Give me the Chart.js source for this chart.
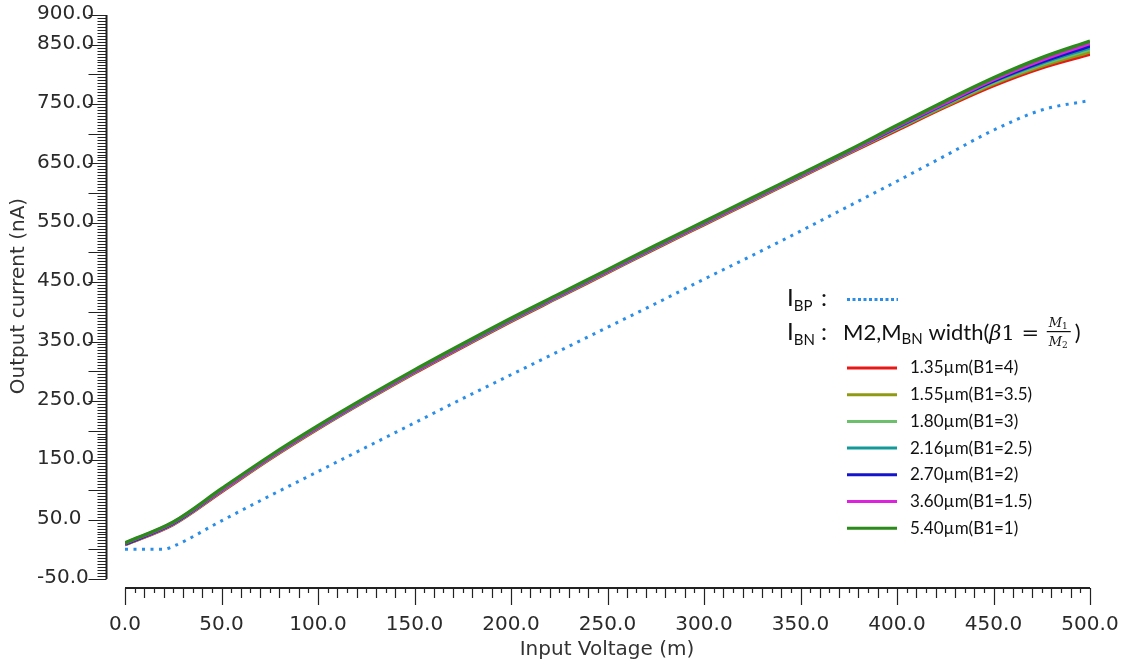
<!DOCTYPE html>
<html>
<head>
<meta charset="utf-8">
<script src="https://cdn.jsdelivr.net/npm/chart.js@4.4.0/dist/chart.umd.min.js"></script>
<style>
	html, body { margin: 0; padding: 0; background: #fff; }
	#wrap { width: 1129px; height: 666px; position: relative; }
</style>
</head>
<body>
<div id="wrap"><canvas id="chart"></canvas></div>
<script>
// input voltage (m) sweep
const voltage = [0, 25, 50, 75, 100, 125, 150, 175, 200, 225, 250, 275, 300, 325, 350, 375, 400, 425, 450, 475, 500];

// I_BN for each M2,M_BN width (nA)
const i135 = [8, 42, 97, 152, 203, 251, 297, 341, 384, 425, 466, 507, 547, 587, 627, 667, 706, 745, 781, 811, 834];
const i155 = [8, 43, 98, 153, 204, 252, 298, 342, 385, 426, 467, 508, 548, 588, 628, 668, 708, 747, 784, 814, 838];
const i180 = [9, 43, 99, 154, 205, 253, 299, 343, 386, 427, 468, 509, 549, 589, 629, 669, 709, 749, 786, 817, 842];
const i216 = [9, 44, 99, 154, 205, 253, 299, 343, 386, 427, 468, 509, 549, 589, 629, 669, 710, 750, 788, 819, 845];
const i270 = [9, 44, 100, 155, 206, 254, 300, 344, 387, 428, 469, 510, 550, 590, 630, 670, 711, 751, 789, 821, 848];
const i360 = [10, 45, 100, 155, 206, 254, 300, 344, 387, 428, 469, 510, 550, 590, 630, 670, 712, 752, 791, 824, 852];
const i540 = [11, 46, 102, 157, 208, 256, 302, 346, 389, 430, 471, 512, 552, 592, 632, 672, 714, 755, 794, 828, 856];

// I_BP (dotted)
const ibpVoltage = [0, 10, 20, 25, 50, 75, 100, 125, 150, 175, 200, 225, 250, 275, 300, 325, 350, 375, 400, 425, 450, 475, 500];
const ibpCurrent = [0, 0, 0, 5, 48, 90, 131, 172, 213, 254, 294, 334, 374, 414, 455, 495, 536, 578, 620, 663, 706, 740, 756];

const seriesLabels = ['1.35µm(B1=4)', '1.55µm(B1=3.5)', '1.80µm(B1=3)', '2.16µm(B1=2.5)', '2.70µm(B1=2)', '3.60µm(B1=1.5)', '5.40µm(B1=1)'];
const seriesData = [i135, i155, i180, i216, i270, i360, i540];
const seriesColors = ['#e81818', '#8f9a10', '#6cc06c', '#14999a', '#1414cc', '#dc22dc', '#2a8a1a'];
const ibpColor = '#2a8ee8';

// y tick labels shown (cadence style: odd hundreds + top)
const yLabelValues = [900, 850, 750, 650, 550, 450, 350, 250, 150, 50, -50];
const xLabelValues = [0, 50, 100, 150, 200, 250, 300, 350, 400, 450, 500];

const toPoints = (xs, ys) => xs.map((v, i) => ({ x: v, y: ys[i] }));

const datasets = seriesData.map((arr, i) => ({
	label: seriesLabels[i],
	data: toPoints(voltage, arr),
	borderColor: seriesColors[i],
	borderWidth: 3.5,
	pointRadius: 0,
	cubicInterpolationMode: 'monotone',
	order: seriesData.length - i,
}));
datasets.push({
	label: 'IBP',
	data: toPoints(ibpVoltage, ibpCurrent),
	borderColor: ibpColor,
	borderWidth: 3,
	borderDash: [3, 5.5],
	pointRadius: 0,
	cubicInterpolationMode: 'monotone',
	order: 0,
});

const AXIS_COLOR = '#222';

const axesPlugin = {
	id: 'cadenceAxes',
	afterDraw(chart) {
		const { ctx, scales: { x, y } } = chart;
		ctx.save();
		ctx.strokeStyle = AXIS_COLOR;
		ctx.fillStyle = AXIS_COLOR;

		// y axis, sitting left of the plot
		const yAxisX = 106.5;
		ctx.lineWidth = 2;
		ctx.beginPath();
		ctx.moveTo(yAxisX, y.getPixelForValue(900));
		ctx.lineTo(yAxisX, y.getPixelForValue(-50));
		ctx.stroke();
		ctx.lineWidth = 1.2;
		ctx.beginPath();
		for (let v = -50; v <= 900; v += 5) {
			const py = Math.round(y.getPixelForValue(v)) + 0.5;
			const len = v % 50 === 0 ? 18 : 9;
			ctx.moveTo(yAxisX, py);
			ctx.lineTo(yAxisX - len, py);
		}
		ctx.stroke();

		ctx.fillStyle = '#2a2a2a';
		ctx.font = '20px "DejaVu Sans"';
		ctx.textAlign = 'left';
		ctx.textBaseline = 'middle';
		yLabelValues.forEach(v => {
			ctx.fillText(v.toFixed(1), 37, y.getPixelForValue(v) - 1);
		});

		// x axis, below the plot
		const xAxisY = 588;
		ctx.lineWidth = 2;
		ctx.beginPath();
		ctx.moveTo(x.getPixelForValue(0), xAxisY);
		ctx.lineTo(x.getPixelForValue(500), xAxisY);
		ctx.stroke();
		ctx.lineWidth = 1.2;
		ctx.beginPath();
		for (let v = 0; v <= 500; v += 5) {
			const px = Math.round(x.getPixelForValue(v)) + 0.5;
			const len = v % 50 === 0 ? 17 : (v % 10 === 0 ? 10 : 5);
			ctx.moveTo(px, xAxisY);
			ctx.lineTo(px, xAxisY + len);
		}
		ctx.stroke();

		ctx.textAlign = 'center';
		xLabelValues.forEach(v => {
			ctx.fillText(v.toFixed(1), x.getPixelForValue(v), 625);
		});

		// axis titles
		ctx.fillStyle = '#333';
		ctx.font = '20px "DejaVu Sans"';
		ctx.fillText('Input Voltage (m)', 607, 650);
		ctx.save();
		ctx.translate(19, 296);
		ctx.rotate(-Math.PI / 2);
		ctx.fillText('Output current (nA)', 0, 0);
		ctx.restore();

		drawLegend(ctx);
		ctx.restore();
	},
};

function drawRun(ctx, parts, x, baseline) {
	let cx = x;
	parts.forEach(p => {
		ctx.font = p.font;
		ctx.fillText(p.text, cx, baseline + (p.dy || 0));
		cx += ctx.measureText(p.text).width;
	});
	return cx;
}

function drawLegend(ctx) {
	const big = '24px Lato';
	const mid = '22px Lato';
	const sub = '15px Lato';
	ctx.fillStyle = '#111';
	ctx.textAlign = 'left';
	ctx.textBaseline = 'alphabetic';

	// I_BP : ......
	drawRun(ctx, [
		{ text: 'I', font: big },
		{ text: 'BP', font: sub, dy: 5 },
	], 787, 306);
	ctx.font = big;
	ctx.fillText(':', 821, 306);
	ctx.save();
	ctx.strokeStyle = ibpColor;
	ctx.lineWidth = 3;
	ctx.setLineDash([3, 2.5]);
	ctx.beginPath();
	ctx.moveTo(847, 299.5);
	ctx.lineTo(898, 299.5);
	ctx.stroke();
	ctx.restore();

	// I_BN : M2,M_BN width(β1 = M1/M2)
	drawRun(ctx, [
		{ text: 'I', font: big },
		{ text: 'BN', font: sub, dy: 5 },
	], 787, 340);
	ctx.font = big;
	ctx.fillText(':', 821, 340);
	let cx = drawRun(ctx, [
		{ text: 'M2,M', font: mid },
		{ text: 'BN', font: sub, dy: 4 },
		{ text: ' width(', font: mid },
		{ text: 'β', font: 'italic 21px "DejaVu Serif"' },
		{ text: '1 = ', font: '21px "DejaVu Serif"' },
	], 843, 340);
	// fraction M1 / M2
	const fracW = 24;
	ctx.fillRect(cx + 1, 331, fracW, 1.2);
	drawRun(ctx, [
		{ text: 'M', font: 'italic 13px "DejaVu Serif"' },
		{ text: '1', font: '9px "DejaVu Serif"', dy: 2 },
	], cx + 3, 327);
	drawRun(ctx, [
		{ text: 'M', font: 'italic 13px "DejaVu Serif"' },
		{ text: '2', font: '9px "DejaVu Serif"', dy: 2 },
	], cx + 3, 346);
	ctx.font = mid;
	ctx.fillText(')', cx + fracW + 5, 340);

	// width entries
	const rowTop = 368;
	const rowGap = 26.7;
	ctx.font = '17px Lato';
	ctx.textBaseline = 'middle';
	seriesLabels.forEach((lab, i) => {
		const ry = rowTop + i * rowGap;
		ctx.strokeStyle = seriesColors[i];
		ctx.lineWidth = 3;
		ctx.beginPath();
		ctx.moveTo(847, ry);
		ctx.lineTo(897, ry);
		ctx.stroke();
		ctx.fillStyle = '#111';
		ctx.fillText(lab, 910, ry);
	});
}

new Chart(document.getElementById('chart'), {
	type: 'line',
	data: { datasets },
	options: {
		responsive: true,
		maintainAspectRatio: false,
		animation: false,
		layout: { padding: { left: 125, right: 39, top: 15, bottom: 87 } },
		plugins: { legend: { display: false }, tooltip: { enabled: false } },
		scales: {
			x: { type: 'linear', min: 0, max: 500, display: false },
			y: { type: 'linear', min: -50, max: 900, display: false },
		},
	},
	plugins: [axesPlugin],
});
</script>
</body>
</html>
